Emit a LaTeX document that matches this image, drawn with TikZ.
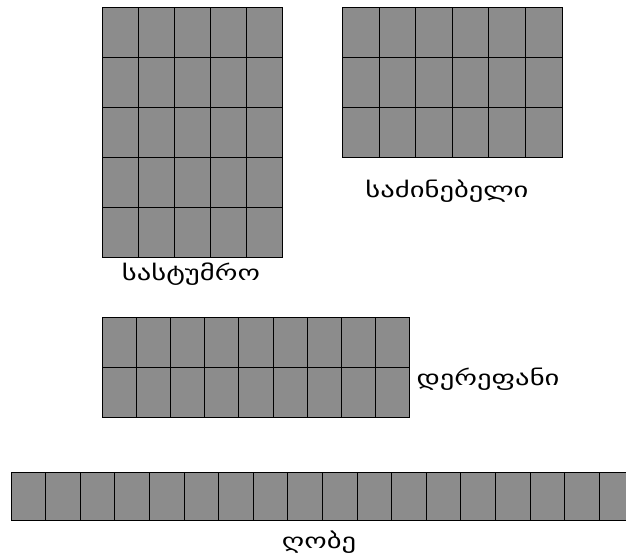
\documentclass[tikz,border=0pt]{standalone}
\usepackage{fontspec}
\newfontfamily\geo{DejaVu Sans}
\definecolor{cellgray}{HTML}{8C8C8C}
\tikzset{
  gridline/.style={draw=black, line width=1.3pt, fill=cellgray},
  lbl/.style={font=\geo\fontsize{21}{24}\selectfont, anchor=base, inner sep=0pt, xscale=1.36}
}
\begin{document}
\begin{tikzpicture}[x=1pt,y=-1pt]
\useasboundingbox (0,0) rectangle (626,557);
\clip (0,0) rectangle (626,557);
% grid: x0,y0,cell w,cell h,cols,rows (edges snapped to pixel centres)
\newcommand{\cellgrid}[6]{%
  \foreach \i in {1,...,#5}{\foreach \j in {1,...,#6}{%
    \draw[gridline] ({round(#1+(\i-1)*#3)+0.5},{round(#2+(\j-1)*#4)+0.5})
      rectangle ({round(#1+\i*#3)+0.5},{round(#2+\j*#4)+0.5});}}}
\cellgrid{102}{6.5}{36}{50}{5}{5}
\cellgrid{342}{6.5}{36.6}{50}{6}{3}
\cellgrid{102}{316.5}{34.1}{50}{9}{2}
\cellgrid{10.5}{472}{34.6}{48}{18}{1}
\node[lbl] (l1) at (191,280) {სასტუმრო};
\node[lbl] (l2) at (447,197) {საძინებელი};
\node[lbl] (l3) at (488,385) {დერეფანი};
\node[lbl] (l4) at (319,548) {ღობე};
\end{tikzpicture}
\end{document}
